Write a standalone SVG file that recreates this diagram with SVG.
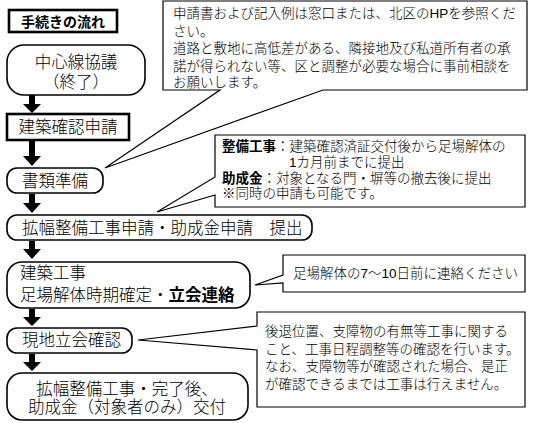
<svg xmlns="http://www.w3.org/2000/svg" width="538" height="423" viewBox="0 0 538 423">
<style>
text{font-family:"Liberation Sans","Noto Sans CJK JP",sans-serif;fill:#000;font-weight:300}
.n{font-size:16.5px}
.c{font-size:13.5px}
.b{font-weight:bold}
.node{fill:#fff;stroke:#000;stroke-width:1.6}
.thick{fill:#fff;stroke:#000;stroke-width:2.6}
.call{fill:#fff;stroke:#000;stroke-width:1.2;stroke-linejoin:miter}
.arr{fill:#000}
</style>
<rect width="538" height="423" fill="#fff"/>
<g id="title">
<rect class="thick" x="9" y="10" width="108" height="22"/>
<text class="b" x="63" y="27" font-size="14" text-anchor="middle">手続きの流れ</text>
</g>
<g id="connectors">
<polygon class="arr" points="29,95 35,95 35,104 41,104 32,113 23,104 29,104"/>
<polygon class="arr" points="29,141 35,141 35,156 41,156 32,166 23,156 29,156"/>
<polygon class="arr" points="29,194 35,194 35,203 41,203 32,213 23,203 29,203"/>
<polygon class="arr" points="29,241 35,241 35,249 41,249 32,259 23,249 29,249"/>
<polygon class="arr" points="29,309 35,309 35,317 41,317 32,326 23,317 29,317"/>
<polygon class="arr" points="29,354 35,354 35,362 41,362 32,371 23,362 29,362"/>
</g>
<g id="node1">
<rect class="node" x="7" y="45" width="138" height="50" rx="17"/>
<text class="n" x="76" y="68" text-anchor="middle">中心線協議</text>
<text class="n" x="76" y="88" text-anchor="middle">（終了）</text>
</g>
<g id="node2">
<rect class="thick" x="7" y="114" width="122" height="26"/>
<text class="n" x="68" y="133" text-anchor="middle">建築確認申請</text>
</g>
<g id="node3">
<rect class="node" x="7" y="168" width="96" height="25" rx="10"/>
<text class="n" x="22" y="187">書類準備</text>
</g>
<g id="node4">
<rect class="node" x="7" y="215" width="305" height="25" rx="10"/>
<text class="n" x="22" y="234">拡幅整備工事申請・助成金申請　提出</text>
</g>
<g id="node5">
<rect class="node" x="7" y="262" width="243" height="46" rx="15"/>
<text class="n" x="20" y="279">建築工事</text>
<text class="n" x="20" y="301">足場解体時期確定・<tspan class="b">立会連絡</tspan></text>
</g>
<g id="node6">
<rect class="node" x="7" y="328" width="125" height="25" rx="10"/>
<text class="n" x="22" y="346">現地立会確認</text>
</g>
<g id="node7">
<rect class="node" x="7" y="373" width="241" height="47" rx="15"/>
<text class="n" x="127" y="395" text-anchor="middle">拡幅整備工事・完了後、</text>
<text class="n" x="127" y="413" text-anchor="middle">助成金（対象者のみ）交付</text>
</g>
<g id="callout1">
<path class="call" d="M163,1 H527 V90 H323 L105,168 L220,90 H163 Z"/>
<text class="c" x="173" y="18">申請書および記入例は窓口または、北区のHPを参照くだ</text>
<text class="c" x="173" y="36">さい。</text>
<text class="c" x="173" y="53">道路と敷地に高低差がある、隣接地及び私道所有者の承</text>
<text class="c" x="173" y="71">諾が得られない等、区と調整が必要な場合に事前相談を</text>
<text class="c" x="173" y="87">お願いします。</text>
</g>
<g id="callout2">
<path class="call" d="M215,135 H525 V207 H215 V195 L157,212 L215,177 Z"/>
<text class="c" x="222" y="151"><tspan class="b">整備工事</tspan>：建築確認済証交付後から足場解体の</text>
<text class="c" x="289" y="167">1カ月前までに提出</text>
<text class="c" x="222" y="183"><tspan class="b">助成金</tspan>：対象となる門・塀等の撤去後に提出</text>
<text class="c" x="222" y="198">※同時の申請も可能です。</text>
</g>
<g id="callout3">
<path class="call" d="M283,255 H525 V292 H283 V283 L255,285 L283,275 Z"/>
<text class="c" x="293" y="278">足場解体の7～10日前に連絡ください</text>
</g>
<g id="callout4">
<path class="call" d="M257,312 H525 V407 H257 V350 L138,340 L257,326 Z"/>
<text class="c" x="265" y="336">後退位置、支障物の有無等工事に関する</text>
<text class="c" x="265" y="354">こと、工事日程調整等の確認を行います。</text>
<text class="c" x="265" y="371">なお、支障物等が確認された場合、是正</text>
<text class="c" x="265" y="389">が確認できるまでは工事は行えません。</text>
</g>
</svg>
